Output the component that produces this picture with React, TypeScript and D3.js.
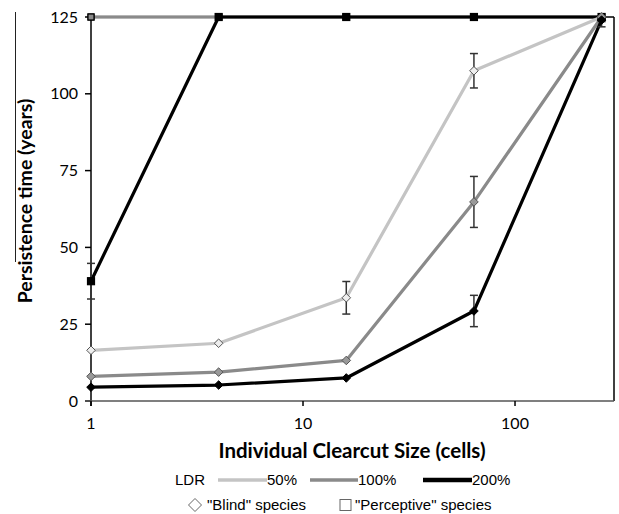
import React from 'react';
import * as d3 from 'd3';

// clearcut sizes (cells), log x axis
const clearcutSizes = [1, 4, 16, 64, 256];

// "Blind" species (diamonds)
const blind50 = [16.5, 18.8, 33.6, 107.5, 125];
const blind50Err = [0, 0, 5.3, 5.6, 0.5];
const blind100 = [8, 9.4, 13.2, 64.8, 125];
const blind100Err = [0, 0, 0, 8.3, 1.5];
const blind200 = [4.5, 5.2, 7.5, 29.3, 124];
const blind200Err = [0, 0, 0, 5.1, 2.2];

// "Perceptive" species (squares)
const perc50 = [125, 125, 125, 125, 125];
const perc100 = [125, 125, 125, 125, 125];
const perc200 = [39, 125, 125, 125, 125];
const perc200Err = [5.8, 0, 0, 0, 0];

const yTicks = [0, 25, 50, 75, 100, 125];
const xTicks = [1, 10, 100];
const ldrLabels = ['50%', '100%', '200%'];
const ldrColors = ['#c4c4c4', '#8a8a8a', '#000000'];

const W = 619, H = 514;
const left = 91, right = 614, top = 17, bottom = 401;

const App = () => {
  const x = d3.scaleLog().domain([1, 293]).range([left, right]);
  const y = d3.scaleLinear().domain([0, 125]).range([bottom, top]);

  const line = d3.line<number>()
    .x((d, i) => x(clearcutSizes[i]))
    .y(d => y(d));

  const series = [
    { vals: perc50, err: null, color: ldrColors[0], kind: 'square' },
    { vals: perc100, err: null, color: ldrColors[1], kind: 'square' },
    { vals: perc200, err: perc200Err, color: ldrColors[2], kind: 'square' },
    { vals: blind50, err: blind50Err, color: ldrColors[0], kind: 'diamond' },
    { vals: blind100, err: blind100Err, color: ldrColors[1], kind: 'diamond' },
    { vals: blind200, err: blind200Err, color: ldrColors[2], kind: 'diamond' },
  ];

  const diamond = (cx: number, cy: number, r: number) =>
    `M${cx},${cy - r}L${cx + r},${cy}L${cx},${cy + r}L${cx - r},${cy}Z`;

  // legend line slots: [start, end] of each swatch
  const legendSlots = [[218, 267], [310, 358], [423, 472]];

  return (
    <svg width={W} height={H} style={{ position: 'absolute', left: 0, top: 0, background: '#fff' }}>
      {/* scan edge artifact */}
      <line x1={15.5} x2={15.5} y1={12} y2={262} stroke="#222" strokeWidth={1} />

      {/* plot frame */}
      <line x1={left} x2={right} y1={top} y2={top} stroke="#000" strokeWidth={1.5} />
      <line x1={right} x2={right} y1={top} y2={bottom} stroke="#000" strokeWidth={1.5} />

      {/* y axis */}
      <line x1={left} x2={left} y1={top} y2={bottom + 5} stroke="#000" strokeWidth={1.5} />
      {yTicks.map(t => (
        <g key={t}>
          <line x1={left - 6} x2={left} y1={y(t)} y2={y(t)} stroke="#000" strokeWidth={1.5} />
          <text x={left - 13} y={y(t) + 5.5} textAnchor="end" fontFamily="Lato" fontSize={16} fill="#000">{t}</text>
        </g>
      ))}

      {/* x axis */}
      <line x1={left - 6} x2={right} y1={bottom} y2={bottom} stroke="#555" strokeWidth={1.5} />
      {xTicks.map(t => (
        <g key={t}>
          <line x1={x(t)} x2={x(t)} y1={bottom} y2={bottom + 5} stroke="#000" strokeWidth={1.5} />
          <text x={x(t)} y={bottom + 28} textAnchor="middle" fontFamily="Lato" fontSize={16} fill="#000">{t}</text>
        </g>
      ))}

      {/* lines */}
      {series.map((s, k) => (
        <path key={'l' + k} d={line(s.vals) || ''} fill="none" stroke={s.color} strokeWidth={3.2} strokeLinejoin="round" />
      ))}

      {/* error bars */}
      {series.map((s, k) => s.err && s.err.map((e, i) => e > 0 && (
        <g key={'e' + k + '_' + i} stroke="#333" strokeWidth={1.5}>
          <line x1={x(clearcutSizes[i])} x2={x(clearcutSizes[i])} y1={y(s.vals[i] - e)} y2={y(Math.min(s.vals[i] + e, 125))} />
          <line x1={x(clearcutSizes[i]) - 4} x2={x(clearcutSizes[i]) + 4} y1={y(s.vals[i] - e)} y2={y(s.vals[i] - e)} />
          {s.vals[i] + e <= 125 && (
            <line x1={x(clearcutSizes[i]) - 4} x2={x(clearcutSizes[i]) + 4} y1={y(s.vals[i] + e)} y2={y(s.vals[i] + e)} />
          )}
        </g>
      )))}

      {/* markers */}
      {series.map((s, k) => s.vals.map((v, i) => {
        const cx = x(clearcutSizes[i]), cy = y(v);
        if (s.kind === 'square') {
          const sz = k === 2 ? 7 : 6;
          return <rect key={'m' + k + '_' + i} x={cx - sz / 2} y={cy - sz / 2} width={sz} height={sz}
            fill={k === 2 ? '#000' : s.color} stroke="#000" strokeWidth={1.2} />;
        }
        const fill = k === 3 ? '#eee' : k === 4 ? '#999' : '#000';
        return <path key={'m' + k + '_' + i} d={diamond(cx, cy, 4.3)} fill={fill} stroke={k === 5 ? '#000' : '#555'} strokeWidth={1} />;
      }))}

      {/* axis titles */}
      <text x={352} y={458} textAnchor="middle" fontFamily="Lato" fontWeight="bold" fontSize={20.5} fill="#000">
        Individual Clearcut Size (cells)
      </text>
      <text transform={`translate(32,201) rotate(-90)`} textAnchor="middle" fontFamily="Lato" fontWeight="bold" fontSize={19.5} fill="#000">
        Persistence time (years)
      </text>

      {/* legend */}
      <g fontFamily="Liberation Sans" fontSize={15} fill="#000">
        <text x={175} y={485}>LDR</text>
        {ldrLabels.map((l, i) => (
          <g key={l}>
            <line x1={legendSlots[i][0]} x2={legendSlots[i][1]} y1={480} y2={480} stroke={ldrColors[i]} strokeWidth={i === 2 ? 4.5 : 3.5} />
            <text x={legendSlots[i][1]} y={485}>{l}</text>
          </g>
        ))}
        <path d={diamond(195, 505, 6.5)} fill="#fff" stroke="#666" strokeWidth={1} />
        <text x={207} y={510}>"Blind" species</text>
        <rect x={340} y={499.5} width={11} height={11} fill="#fff" stroke="#666" strokeWidth={1} />
        <text x={355} y={510}>"Perceptive" species</text>
      </g>
    </svg>
  );
};

export default App;
